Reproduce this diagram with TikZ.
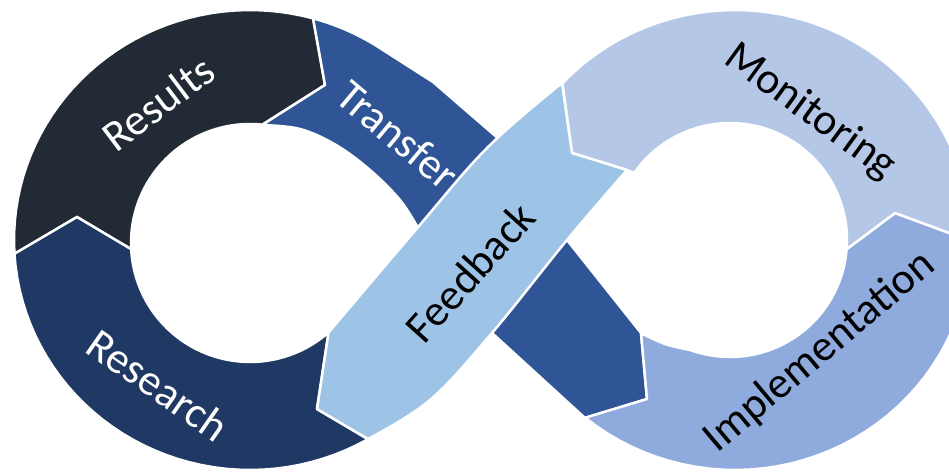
\documentclass[tikz,border=0pt]{standalone}
\usepackage{fontspec}
\setmainfont{Carlito}
\definecolor{cResults}{HTML}{222A35}
\definecolor{cTransfer}{HTML}{2F5597}
\definecolor{cResearch}{HTML}{1F3864}
\definecolor{cFeedback}{HTML}{9DC3E6}
\definecolor{cMonitor}{HTML}{B4C7E7}
\definecolor{cImpl}{HTML}{8FAADC}
\begin{document}
\begin{tikzpicture}[x=1pt,y=-1pt,
  seg/.style={draw=white, line width=2.5pt, line join=round},
  lbl/.style={font=\fontsize{44}{50}\selectfont, inner sep=0pt},
  eone/.style={domain=#1, samples=40, variable=\t},
  smooth6/.style={smooth, tension=0.6}]
\path[use as bounding box] (0,0) rectangle (949,473);
\clip (0,0) rectangle (949,473);
% Results
\path[seg, fill=cResults] (313,18)
  -- plot[eone=74.5:183.5] ({250+236*cos(\t)},{240-230*sin(\t)})
  -- (77,217)
  -- plot[eone=183:84] ({250+119*cos(\t)},{243-119*sin(\t)})
  -- (325,85) -- cycle;
% Research
\path[seg, fill=cResearch] (14,254)
  -- plot[eone=183.5:300] ({250+236*cos(\t)},{240-230*sin(\t)})
  -- (317,409)
  -- plot[eone=311.3:183] ({250+119*cos(\t)},{243-119*sin(\t)})
  -- (77,217) -- cycle;
% Transfer (continuous band, passes under Feedback)
\path[seg, fill=cTransfer] (313,18) -- (325,85) -- (262,125)
  -- plot[smooth6] coordinates {(262,125) (300,129) (336,145) (370,170) (400,200) (418,228)}
  -- (492,333) -- (585,418) -- (647,399) -- (641,333) -- (567,240) -- (500,140) -- (433,82)
  -- plot[eone=58:74.5] ({250+236*cos(\t)},{240-230*sin(\t)}) -- cycle;
% Implementation
\path[seg, fill=cImpl] (641,333)
  -- plot[smooth6] coordinates {(641,333) (665,344) (690,350)}
  -- plot[eone=250:355.5] ({730+117*cos(\t)},{240-117*sin(\t)})
  -- (895,213) -- (971,241)
  -- plot[eone=360:230.6] ({735+236*cos(\t)},{240-230*sin(\t)})
  -- (647,399) -- cycle;
% Monitoring
\path[seg, fill=cMonitor] (971,241)
  -- plot[eone=0:137] ({735+236*cos(\t)},{240-230*sin(\t)})
  -- (572,153) -- (627,170)
  -- plot[eone=145:-4.5] ({730+117*cos(\t)},{240-117*sin(\t)})
  -- (895,213) -- cycle;
% Feedback (on top)
\path[seg, fill=cFeedback] (328.6,332.4)
  -- plot[smooth6] coordinates {(328.6,332.4) (413,233) (487,148) (562,83)}
  -- (572,153) -- (627,170)
  -- plot[smooth6] coordinates {(627,170) (567,240) (492,333) (430,400) (368,439)}
  -- (317,409) -- cycle;
% Labels
\node[lbl, text=white, rotate=37] (results) at (158,103) {Results};
\node[lbl, text=white, rotate=-40] (transfer) at (398,135) {Transfer};
\node[lbl, text=white, rotate=-35] (research) at (158,385) {Research};
\node[lbl, text=black, rotate=48] (feedback) at (470,272) {Feedback};
\node[lbl, text=black, rotate=-36] (monitoring) at (810,112) {Monitoring};
\node[lbl, text=black, rotate=40] (implementation) at (820,352) {Implementation};
\end{tikzpicture}
\end{document}
